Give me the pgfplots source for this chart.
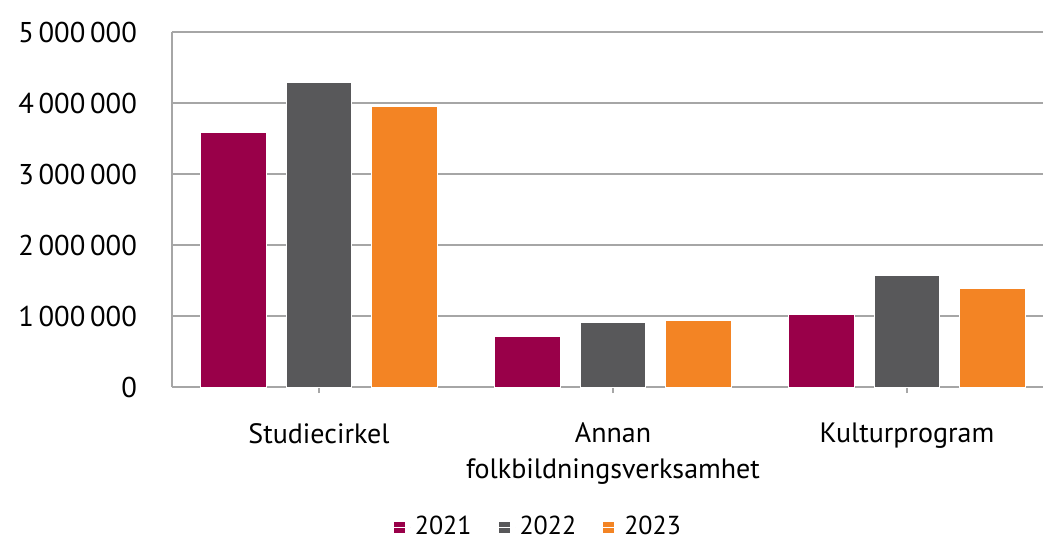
\documentclass[border=0pt]{standalone}
\usepackage{pgfplots}
\pgfplotsset{compat=1.18}
\usepackage{fontspec}
\setmainfont{PT Sans}
\definecolor{c21}{HTML}{990049}
\definecolor{c22}{HTML}{58585A}
\definecolor{c23}{HTML}{F38424}
\definecolor{gridc}{HTML}{A6A6A6}
\begin{document}
\begin{tikzpicture}
\useasboundingbox (-86pt,-77.5pt) rectangle (435.5pt,193.5pt);
\begin{axis}[
  at={(0,0)}, anchor=south west,
  scale only axis,
  width=441pt, height=177.5pt,
  ybar=10pt, bar width=32.8pt,
  xmin=-0.5, xmax=2.5, ymin=0, ymax=5000000,
  scaled y ticks=false,
  axis x line*=bottom, axis y line*=left,
  axis line style={gridc, line width=1pt},
  xtick=data,
  xticklabels={Studiecirkel,{Annan\\folkbildningsverksamhet},Kulturprogram},
  xticklabel style={align=center, font=\fontsize{14}{18}\selectfont, yshift=-11.5pt},
  x tick style={gridc, line width=1pt},
  major tick length=3pt, tick align=outside,
  ytick={0,1000000,2000000,3000000,4000000,5000000},
  yticklabels={0,1\,000\,000,2\,000\,000,3\,000\,000,4\,000\,000,5\,000\,000},
  yticklabel style={font=\fontsize{14.3}{16}\selectfont, xshift=-11pt},
  y tick style={draw=none},
  ymajorgrids, grid style={gridc, line width=0.75pt},
  legend style={at={(rel axis cs:0.416,-0.395)}, anchor=center, draw=none,
    legend columns=3, font=\fontsize{13}{15}\selectfont, inner sep=1pt,
    /tikz/every even column/.append style={column sep=11pt}},
  legend image code/.code={\fill[#1] (0pt,-3pt) rectangle (6pt,3pt); \path (0pt,0pt) -- (8.5pt,0pt);},
]
\addplot[fill=c21, draw=white, line width=0.5pt] coordinates {(0,3583000) (1,717000) (2,1024000)};
\addplot[fill=c22, draw=white, line width=0.5pt] coordinates {(0,4287000) (1,910000) (2,1566000)};
\addplot[fill=c23, draw=white, line width=0.5pt] coordinates {(0,3944000) (1,943000) (2,1392000)};
\legend{2021,2022,2023}
\end{axis}
\end{tikzpicture}
\end{document}
